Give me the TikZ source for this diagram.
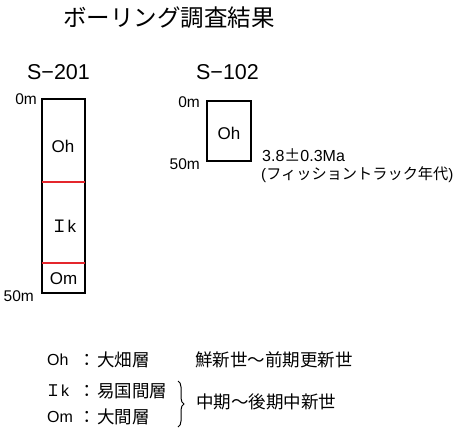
\documentclass[tikz,border=0pt]{standalone}
\usepackage{fontspec}
\setmainfont{Noto Sans CJK JP}
\newfontfamily\lat{Liberation Sans}
\usetikzlibrary{decorations.pathreplacing}
\definecolor{layerred}{RGB}{228,38,44}
\begin{document}
\begin{tikzpicture}[x=1pt,y=-1pt,
  txt/.style={inner sep=0pt},
  depth/.style={font=\lat\fontsize{15.5}{15.5}\selectfont},
  unit/.style={font=\lat\fontsize{17}{17}\selectfont},
  leg/.style={font=\fontsize{17.5}{17.5}\selectfont},
  hdr/.style={font=\lat\fontsize{21.5}{21.5}\selectfont},
  core/.style={draw=black, line width=1.1pt},
  boundary/.style={draw=layerred, line width=2pt}]
\useasboundingbox (0,0) rectangle (461,437);
% title
\node[txt, font=\fontsize{23.5}{23.5}\selectfont] (title) at (169,18) {ボーリング調査結果};
% S-201
\node[txt, hdr] (s201) at (58.5,72.5) {S−201};
\draw[core] (42,99) rectangle (85,293);
\coordinate (a1) at (42,182); \coordinate (a2) at (85,182);
\coordinate (b1) at (42,263); \coordinate (b2) at (85,263);
\draw[boundary] (a1) -- (a2);
\draw[boundary] (b1) -- (b2);
\node[txt, depth, anchor=east] (s201top) at (37,99) {0m};
\node[txt, depth, anchor=east] (s201bot) at (34,296) {50m};
\node[txt, unit] (oh1) at (63,146) {Oh};
\node[txt, unit] (ik1) at (63.5,226) {{\normalfont\fontsize{17}{17}\selectfont Ｉ}k};
\node[txt, unit] (om1) at (63.5,279) {Om};
% S-102
\node[txt, hdr] (s102) at (227.5,72.5) {S−102};
\draw[core] (207,101) rectangle (251,161);
\node[txt, depth, anchor=east] (s102top) at (200,102.5) {0m};
\node[txt, depth, anchor=east] (s102bot) at (200,164) {50m};
\node[txt, unit] (oh2) at (229,133) {Oh};
\node[txt, anchor=west, font=\fontsize{16}{16}\selectfont] (age1) at (262,155) {{\lat 3.8}±{\lat 0.3Ma}};
\node[txt, anchor=west, font=\fontsize{15.2}{15.2}\selectfont] (age2) at (261,175) {{\lat(}フィッショントラック年代{\lat)}};
% legend
\node[txt, font=\lat\fontsize{16}{16}\selectfont, anchor=west] (lo) at (47,360) {Oh};
\node[txt, font=\fontsize{16}{16}\selectfont, anchor=west] (li) at (45,391) {Ｉ{\lat k}};
\node[txt, font=\lat\fontsize{16}{16}\selectfont, anchor=west] (lm) at (47,417) {Om};
\node[txt, leg] (c1) at (87,360) {：};
\node[txt, leg] (c2) at (87,391) {：};
\node[txt, leg] (c3) at (87,417) {：};
\node[txt, leg, anchor=west] (n1) at (97,360) {大畑層};
\node[txt, leg, anchor=west] (n2) at (97,391) {易国間層};
\node[txt, leg, anchor=west] (n3) at (97,417) {大間層};
\node[txt, leg, anchor=west] (e1) at (195,360) {鮮新世〜前期更新世};
\coordinate (bt) at (178,381);
\coordinate (bb) at (178,427);
\draw[line width=1pt, decorate, decoration={brace, amplitude=6pt}] (bt) -- (bb);
\node[txt, leg, anchor=west] (e2) at (196,402) {中期〜後期中新世};
\end{tikzpicture}
\end{document}
